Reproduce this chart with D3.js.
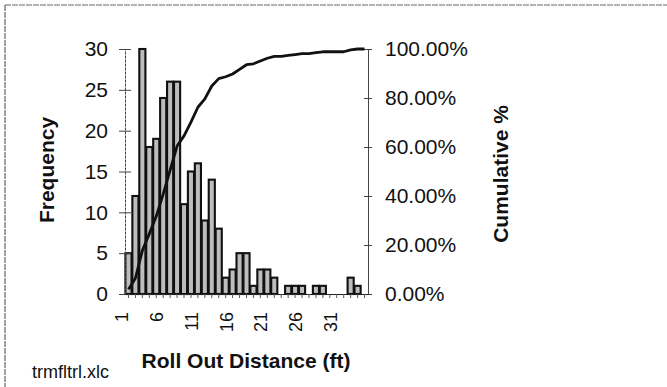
<!DOCTYPE html>
<html>
<head>
<meta charset="utf-8">
<script src="https://cdn.jsdelivr.net/npm/d3@7"></script>
<style>
  html, body { margin: 0; padding: 0; background: #fff; }
  svg { display: block; font-family: "Liberation Sans", Arial, sans-serif; }
</style>
</head>
<body>
<svg id="chart" width="667" height="387"></svg>
<script>
// ---- data ----
const categories = ["1","2","3","4","5","6","7","8","9","10","11","12","13","14","15","16","17","18","19","20","21","22","23","24","25","26","27","28","29","30","31","32","33","34","35"];
const frequency = [5,12,30,18,19,24,26,26,11,15,16,9,14,8,2,3,5,5,1,3,3,2,0,1,1,1,0,1,1,0,0,0,2,1,0];
const cumulativePct = [1.89,6.42,17.74,24.53,31.70,40.75,50.57,60.38,64.53,70.19,76.23,79.62,84.91,87.92,88.68,89.81,91.70,93.58,93.96,95.09,96.23,96.98,96.98,97.36,97.74,98.11,98.11,98.49,98.87,98.87,98.87,98.87,99.62,100,100];
const freqTicks = [0,5,10,15,20,25,30];
const pctTicks = [0,20,40,60,80,100];
const xTickLabels = ["1","6","11","16","21","26","31"];
const xTitle = "Roll Out Distance (ft)";
const yLeftTitle = "Frequency";
const yRightTitle = "Cumulative %";
const fileLabel = "trmfltrl.xlc";

// ---- layout ----
const svg = d3.select("#chart");
const plot = { left: 125, right: 368, top: 49, bottom: 294 };

const x = d3.scaleBand().domain(categories).range([plot.left, plot.right]).paddingInner(0.12).paddingOuter(0.06);
const yL = d3.scaleLinear().domain([0, 30]).range([plot.bottom, plot.top]);
const yR = d3.scaleLinear().domain([0, 100]).range([plot.bottom, plot.top]);

// outer frame (top and left edges visible)
svg.append("line").attr("x1", 5).attr("x2", 667).attr("y1", 5).attr("y2", 5)
  .attr("stroke", "#666").attr("stroke-width", 1.2).attr("stroke-dasharray", "6,1");
svg.append("line").attr("x1", 5).attr("x2", 5).attr("y1", 5).attr("y2", 387)
  .attr("stroke", "#666").attr("stroke-width", 1.2).attr("stroke-dasharray", "6,1");

// bars
svg.append("g").selectAll("rect").data(frequency).join("rect")
  .attr("x", (d, i) => x(categories[i]))
  .attr("width", x.bandwidth())
  .attr("y", d => yL(d))
  .attr("height", d => yL(0) - yL(d))
  .attr("fill", "#bdbdbd")
  .attr("stroke", "#111")
  .attr("stroke-width", 2.1)
  .attr("display", d => d > 0 ? null : "none");

// left axis
const gL = svg.append("g").attr("transform", `translate(${plot.left},0)`)
  .call(d3.axisLeft(yL).tickValues(freqTicks).tickSizeInner(6).tickSizeOuter(0).tickPadding(11));
gL.select(".domain").attr("stroke", "#444").attr("stroke-dasharray", "3,1");
gL.selectAll(".tick line").attr("x2", 6).attr("x1", -6).attr("stroke", "#444");
gL.selectAll(".tick text").attr("font-size", 21).attr("fill", "#111")
  .attr("font-family", "Liberation Sans, Arial, sans-serif").attr("x", -17);

// right axis
const gR = svg.append("g").attr("transform", `translate(${plot.right},0)`)
  .call(d3.axisRight(yR).tickValues(pctTicks).tickFormat(d => d3.format(".2f")(d) + "%").tickSizeInner(4).tickSizeOuter(0));
gR.select(".domain").attr("stroke", "#444");
gR.selectAll(".tick line").attr("x1", -4).attr("x2", 4).attr("stroke", "#444");
gR.selectAll(".tick text").attr("font-size", 21).attr("fill", "#111")
  .attr("font-family", "Liberation Sans, Arial, sans-serif").attr("x", 17);

// bottom axis
const gB = svg.append("g").attr("transform", `translate(0,${plot.bottom})`)
  .call(d3.axisBottom(x).tickValues(categories).tickSizeInner(4).tickSizeOuter(0)
    .tickFormat(d => xTickLabels.includes(d) ? d : ""));
gB.select(".domain").attr("stroke", "#222").attr("stroke-width", 1.2);
gB.selectAll(".tick line").attr("stroke", "#555");
gB.selectAll(".tick text")
  .attr("font-size", 18).attr("fill", "#111").attr("font-family", "Liberation Sans, Arial, sans-serif")
  .attr("transform", "rotate(-90)")
  .attr("text-anchor", "end")
  .attr("x", -18).attr("y", 0).attr("dy", 0);

// cumulative line
const line = d3.line()
  .x((d, i) => x(categories[i]) + x.bandwidth() / 2)
  .y(d => yR(d));
svg.append("path").datum(cumulativePct)
  .attr("d", line)
  .attr("fill", "none")
  .attr("stroke", "#111")
  .attr("stroke-width", 2.8)
  .attr("stroke-linejoin", "round");

// titles
svg.append("text").attr("x", 246).attr("y", 368).attr("text-anchor", "middle")
  .attr("font-size", 21).attr("font-weight", "bold").attr("fill", "#111").text(xTitle);
svg.append("text").attr("transform", "translate(54,170) rotate(-90)").attr("text-anchor", "middle")
  .attr("font-size", 21).attr("font-weight", "bold").attr("fill", "#111").text(yLeftTitle);
svg.append("text").attr("transform", "translate(508,174) rotate(-90)").attr("text-anchor", "middle")
  .attr("font-size", 21).attr("font-weight", "bold").attr("fill", "#111").text(yRightTitle);
svg.append("text").attr("x", 32).attr("y", 378)
  .attr("font-size", 18).attr("fill", "#111").text(fileLabel);
</script>
</body>
</html>
